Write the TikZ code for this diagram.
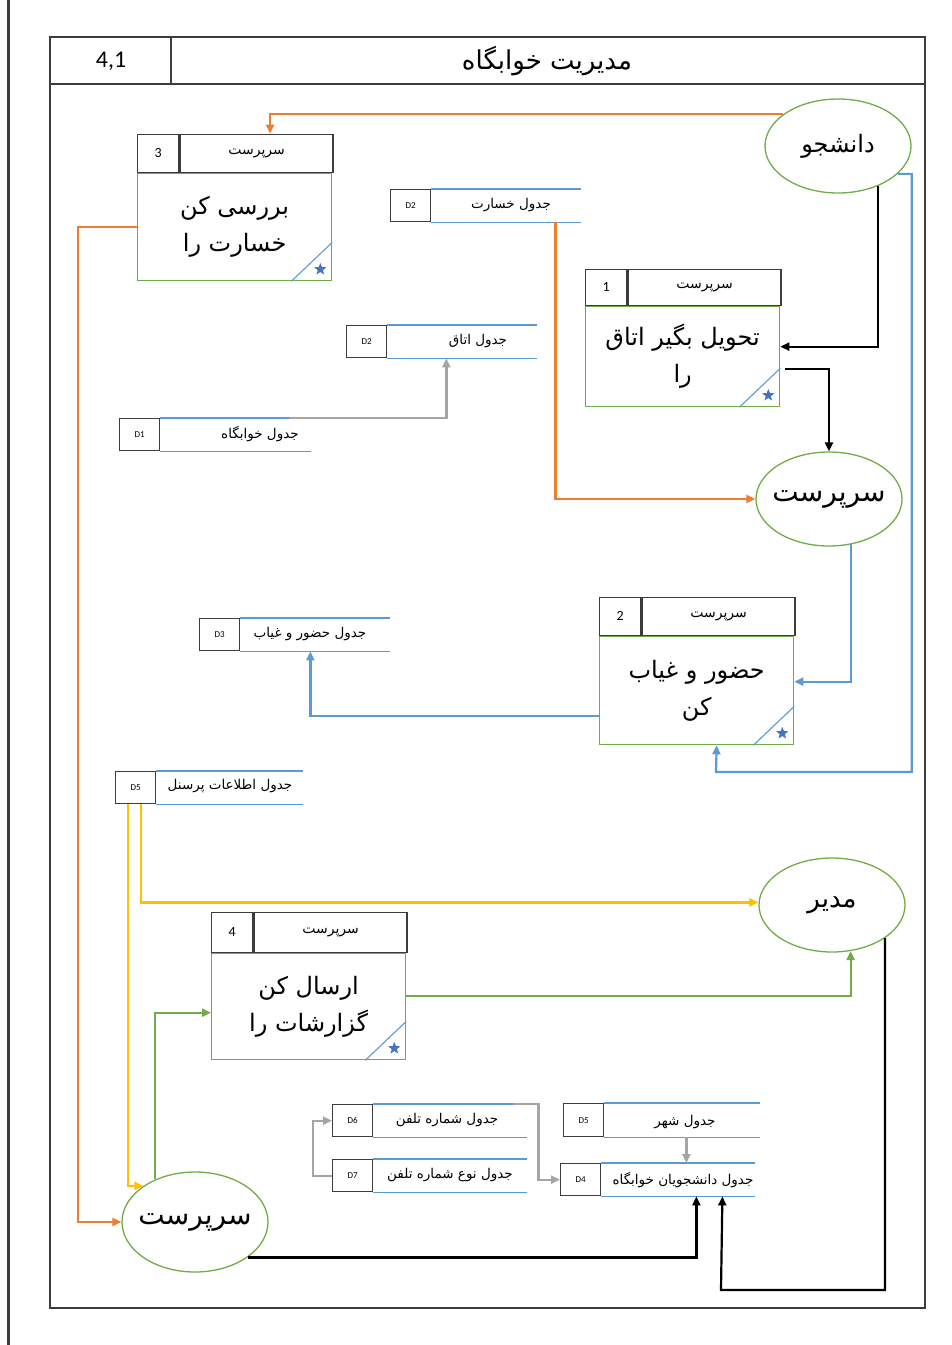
\documentclass[tikz,border=0pt]{standalone}
\usepackage{fontspec}
\setmainfont{Carlito}
\newfontfamily\arabicfont[Script=Arabic]{DejaVu Sans}
\TeXXeTstate=1
\usetikzlibrary{arrows.meta}
\usetikzlibrary{positioning}
\usetikzlibrary{shapes.geometric}

\definecolor{floworange}{HTML}{ED7D31}
\definecolor{flowblue}{HTML}{5B9BD5}
\definecolor{flowgreen}{HTML}{70AD47}
\definecolor{flowyellow}{HTML}{FFC000}
\definecolor{flowgray}{HTML}{A5A5A5}
\definecolor{starblue}{HTML}{4472C4}
\definecolor{framegray}{HTML}{3C3C3C}

\newcommand{\fatext}[1]{{\arabicfont\beginR #1\endR}}

\tikzset{
    idcell/.style={draw=framegray, line width=1.4pt, minimum width=41pt, minimum height=38pt, inner sep=0pt, font=\fontsize{14}{16}\selectfont},
    headcell/.style={draw=framegray, line width=1.4pt, minimum width=153pt, minimum height=38pt, inner sep=0pt, font=\fontsize{14}{16}\selectfont},
    bodycell/.style={draw=flowgreen, line width=1.3pt, minimum width=194pt, inner sep=0pt, align=center, font=\fontsize{24}{37}\selectfont},
    entity/.style={ellipse, draw=flowgreen, line width=1.3pt, minimum width=146pt, minimum height=94pt, inner sep=-20pt},
    storeid/.style={draw=framegray, line width=1.4pt, minimum width=40pt, minimum height=32pt, inner sep=0pt, font=\fontsize{9}{11}\selectfont},
    storetext/.style={inner sep=0pt, font=\fontsize{13.5}{15}\selectfont},
    storeline/.style={draw=flowblue, line width=1.3pt},
    cornerline/.style={draw=flowblue, line width=1.1pt},
    cornerstar/.style={star, star points=5, star point ratio=2.4, fill=starblue, draw=none, minimum size=13pt, inner sep=0pt},
    flow/.style={line width=2.2pt, -{Triangle[length=9pt, width=8pt]}},
    orangeflow/.style={flow, draw=floworange},
    blueflow/.style={flow, draw=flowblue},
    greenflow/.style={flow, draw=flowgreen},
    yellowflow/.style={flow, draw=flowyellow},
    grayflow/.style={flow, draw=flowgray},
    blackflow/.style={flow, draw=black}
}

\begin{document}
\begin{tikzpicture}[x=1pt, y=-1pt]
    \useasboundingbox (0,0) rectangle (952,1345);
    \fill[white] (0,0) rectangle (952,1345);

    % page edge and frame
    \draw[framegray, line width=3pt] (8,0) -- (8,1345);
    \draw[framegray, line width=1.4pt] (50,37) rectangle (925,1308);
    \draw[framegray, line width=1.4pt] (50,84) -- (925,84);
    \draw[framegray, line width=1.4pt] (171,37) -- (171,84);
    \node[font=\fontsize{24}{28}\selectfont] (hdrnum) at (111,61) {4,1};
    \node[font=\fontsize{26}{30}\selectfont] (hdrtitle) at (547,61) {\fatext{مدیریت خوابگاه}};

    % processes
    \node[bodycell, minimum height=107pt, anchor=north west] (p3body) at (137,173) {\fatext{بررسی کن}\\\fatext{خسارت را}};
    \node[idcell, above=0pt of p3body.north west, anchor=south west] (p3id) {3};
    \node[headcell, right=0pt of p3id] (p3head) {\fatext{سرپرست}};

    \node[bodycell, minimum height=100pt, anchor=north west] (p1body) at (585,306) {\fatext{تحویل بگیر اتاق}\\\fatext{را}};
    \node[idcell, above=0pt of p1body.north west, anchor=south west, minimum height=36pt] (p1id) {1};
    \node[headcell, right=0pt of p1id, minimum height=36pt] (p1head) {\fatext{سرپرست}};

    \node[bodycell, minimum height=108pt, anchor=north west] (p2body) at (599,636) {\fatext{حضور و غیاب}\\\fatext{کن}};
    \node[idcell, above=0pt of p2body.north west, anchor=south west] (p2id) {2};
    \node[headcell, right=0pt of p2id] (p2head) {\fatext{سرپرست}};

    \node[bodycell, minimum height=106pt, anchor=north west] (p4body) at (211,953) {\fatext{ارسال کن}\\\fatext{گزارشات را}};
    \node[idcell, above=0pt of p4body.north west, anchor=south west, minimum height=40pt] (p4id) {4};
    \node[headcell, right=0pt of p4id, minimum height=40pt] (p4head) {\fatext{سرپرست}};

    \foreach \p in {p3body, p1body, p2body, p4body} {
        \draw[cornerline] ([xshift=-41pt]\p.south east) -- ([yshift=39pt]\p.south east);
        \node[cornerstar] at ([shift={(-12,-12)}]\p.south east) {};
    }

    % entities
    \node[entity] (e1) at (838,146) {\fontsize{24}{28}\selectfont\fatext{دانشجو}};
    \node[entity] (e2) at (829,499) {\fontsize{28}{32}\selectfont\fatext{سرپرست}};
    \node[entity] (e3) at (832,905) {\fontsize{26}{30}\selectfont\fatext{مدیر}};
    \node[entity, minimum height=100pt] (e4) at (195,1222) {\fontsize{28}{32}\selectfont\fatext{سرپرست}};

    % data stores
    \node[storeid, anchor=north west] (d2a) at (390,189) {D2};
    \node[storeid, anchor=north west] (d2b) at (346,325) {D2};
    \node[storeid, anchor=north west] (d1) at (119,418) {D1};
    \node[storeid, anchor=north west] (d3) at (199,618) {D3};
    \node[storeid, anchor=north west] (d5a) at (115,771) {D5};
    \node[storeid, anchor=north west] (d6) at (332,1104) {D6};
    \node[storeid, anchor=north west] (d7) at (332,1159) {D7};
    \node[storeid, anchor=north west, minimum height=33pt] (d5b) at (563,1103) {D5};
    \node[storeid, anchor=north west] (d4) at (560,1163) {D4};
    \foreach \s/\len in {d2a/150, d2b/150, d1/151, d3/150, d5a/147, d6/154, d7/154, d5b/156, d4/154} {
        \draw[storeline] (\s.north east) -- ++(\len,0);
        \draw[storeline] (\s.south east) -- ++(\len,0);
    }
    \node[storetext] (d2atext) at (511,205) {\fatext{جدول خسارت}};
    \node[storetext] (d2btext) at (478,341) {\fatext{جدول اتاق}};
    \node[storetext] (d1text) at (260,434) {\fatext{جدول خوابگاه}};
    \node[storetext] (d3text) at (310,634) {\fatext{جدول حضور و غیاب}};
    \node[storetext] (d5atext) at (230,786) {\fatext{جدول اطلاعات پرسنل}};
    \node[storetext] (d6text) at (447,1120) {\fatext{جدول شماره تلفن}};
    \node[storetext] (d7text) at (450,1175) {\fatext{جدول نوع شماره تلفن}};
    \node[storetext] (d5btext) at (685,1122) {\fatext{جدول شهر}};
    \node[storetext] (d4text) at (683,1180) {\fatext{جدول دانشجویان خوابگاه}};

    % turning points
    \coordinate (blueturn) at (716,772);
    \coordinate (blackturn) at (721,1290);
    \coordinate (shahrout) at ([xshift=82pt]d5b.south east);

    % flows
    \draw[orangeflow] (e1.150) -| ([xshift=13.5pt]p3head.north);
    \draw[orangeflow] (p3body.west) -- ++(-59,0) |- (e4.west);
    \draw[orangeflow] ([xshift=124pt]d2a.south east) |- (e2.west);
    \draw[grayflow] ([xshift=129pt]d1.north east) -| ([xshift=59pt]d2b.south east);
    \draw[blackflow] (e1.-45) |- ([yshift=10pt]p1body.east);
    \draw[blackflow] ([xshift=5pt, yshift=-12pt]p1body.east) -| (e2.north);
    \draw[blueflow] (e2.-64) |- ([yshift=9pt]p2body.east);
    \draw[blueflow] ([yshift=-25pt]p2body.west) -| ([xshift=70pt]d3.south east);
    \draw[blueflow] (e1.-25) -- ++(14,0) |- (blueturn) -- ([xshift=20pt]p2body.south);
    \draw[yellowflow] ([xshift=13pt]d5a.south west) |- (e4.145);
    \draw[yellowflow] ([xshift=26pt]d5a.south west) |- (e3.178);
    \draw[greenflow] (e4.133) |- ([yshift=-6pt]p4body.west);
    \draw[greenflow] ([yshift=11pt]p4body.east) -| (e3.-68);
    \draw[blackflow] (e4.-34) -| ([xshift=95pt]d4.south east);
    \draw[blackflow] (e3.-32) |- (blackturn) -- ([xshift=121pt]d4.south east);
    \draw[grayflow] (d7.west) -- ++(-19,0) |- (d6.west);
    \draw[grayflow] ([xshift=141pt]d6.north east) -- ++(24,0) |- (d4.west);
    \draw[grayflow] (shahrout) -- (shahrout |- d4.north);
\end{tikzpicture}
\end{document}
